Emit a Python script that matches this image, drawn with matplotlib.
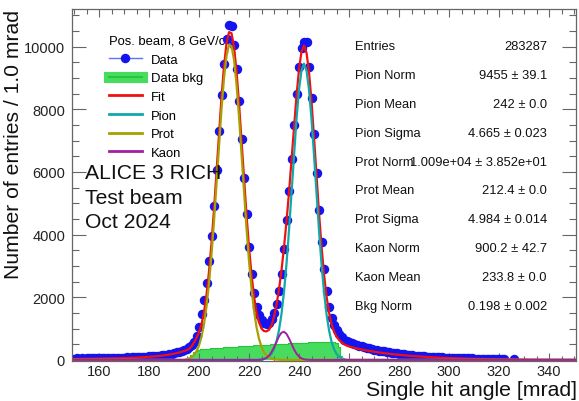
import matplotlib
matplotlib.use('Agg')
import matplotlib.pyplot as plt
import numpy as np
from matplotlib.lines import Line2D
from matplotlib.ticker import MultipleLocator

plt.rcParams['font.family'] = ['Liberation Sans', 'DejaVu Sans']

# data histogram, 1 mrad bins starting at 150 mrad
data_start = 150
data_counts = [
    40, 45, 38, 50, 42, 48, 52, 45, 55, 50,
    58, 52, 60, 55, 62, 58, 65, 60, 68, 72,
    70, 78, 75, 82, 85, 90, 88, 95, 100, 105,
    110, 115, 120, 128, 135, 145, 155, 170, 185, 200,
    220, 240, 265, 290, 320, 360, 410, 480, 580, 760,
    1050, 1450, 1900, 2450, 3150, 3950, 4900, 6050, 7300, 8450,
    9450, 10250, 10700, 10650, 10050, 9300, 8250, 7050, 5800, 4650,
    3600, 2750, 2150, 1700, 1420, 1260, 1190, 1160, 1180, 1300,
    1500, 1800, 2200, 2750, 3550, 4450, 5400, 6400, 7500, 8500,
    9350, 9950, 10150, 10150, 9350, 8350, 7200, 5950, 4800, 3750,
    2900, 2200, 1700, 1350, 1100, 950, 820, 720, 650, 600,
    560, 530, 500, 480, 455, 430, 410, 390, 370, 350,
    330, 315, 300, 285, 270, 258, 245, 232, 220, 208,
    196, 185, 175, 165, 156, 148, 140, 133, 126, 120,
    114, 108, 102, 97, 92, 88, 84, 80, 76, 72,
    69, 66, 63, 60, 57, 55, 52, 50, 48, 46,
    44, 42, 40, 38, 37, 35, 34, 32, 31, 30,
    29, 28, 27,
]
extra_angle = [326]
extra_count = [25]

# background histogram
bkg_start = 196
bkg_counts = [
    60, 150, 240, 290, 320, 335, 345, 350, 360, 368,
    372, 380, 385, 392, 398, 402, 408, 412, 418, 422,
    428, 432, 440, 446, 452, 456, 462, 466, 470, 475,
    480, 484, 488, 494, 498, 502, 508, 512, 518, 522,
    526, 530, 534, 538, 542, 546, 550, 552, 556, 558,
    560, 562, 563, 565, 566, 566, 565, 563, 560, 555,
    420, 120,
]

# fit curves, sampled every 1 mrad
fit_start = 150
fit_total = [
    30, 30, 31, 32, 33, 34, 35, 36, 37, 38,
    40, 41, 42, 44, 45, 47, 49, 51, 53, 55,
    58, 61, 64, 67, 70, 74, 78, 82, 87, 92,
    98, 104, 111, 118, 126, 135, 145, 156, 168, 182,
    198, 216, 236, 258, 283, 312, 350, 430, 560, 700,
    880, 1140, 1530, 2080, 2820, 3730, 4800, 5995, 7220, 8385,
    9380, 10100, 10463, 10427, 9998, 9227, 8198, 7021, 5803, 4639,
    3600, 2727, 2033, 1511, 1200, 1000, 920, 910, 960, 1100,
    1370, 1760, 2250, 2860, 3590, 4418, 5348, 6363, 7420, 8429,
    9276, 9840, 10030, 9808, 9190, 8254, 7112, 5888, 4700, 3632,
    2738, 2035, 1514, 1151, 906, 750, 640, 560, 500, 460,
    430, 405, 385, 365, 348, 332, 316, 302, 288, 275,
    262, 250, 238, 227, 216, 206, 196, 187, 178, 170,
    162, 154, 147, 140, 133, 127, 121, 115, 109, 104,
    99, 94, 89, 85, 81, 77, 73, 69, 66, 62,
    59, 56, 53, 50, 48, 45, 43, 40, 38, 36,
    34, 32, 30, 28, 27, 25, 24, 22, 21, 20,
    19, 18, 17, 16, 15, 14, 13, 12, 12, 11,
    10, 10, 9, 9, 8, 8, 7, 7, 7, 6,
    6, 6, 5, 5, 5, 5, 4, 4, 4, 4,
    3, 3,
]
prot_start = 195
prot_curve = [
    23, 45, 85, 155, 272, 457, 738, 1144, 1704, 2438,
    3352, 4424, 5610, 6834, 7995, 8985, 9700, 10058, 10017, 9583,
    8807, 7773, 6591, 5368, 4199, 3155, 2277, 1578, 1051, 672,
    413, 244, 138, 75, 39, 20, 10, 5,
]
pion_start = 226
pion_curve = [
    26, 54, 105, 195, 346, 586, 949, 1470, 2173, 3067,
    4135, 5323, 6547, 7689, 8625, 9240, 9455, 9240, 8625, 7689,
    6547, 5323, 4135, 3067, 2173, 1470, 949, 586, 346, 195,
    105, 54, 26,
]
kaon_start = 224
kaon_curve = [
    4, 12, 31, 69, 139, 250, 404, 582, 752, 869,
    898, 831, 688, 510, 338, 200, 106, 50, 21, 8, 3,
]

stat_names = ['Entries', 'Pion Norm', 'Pion Mean', 'Pion Sigma', 'Prot Norm',
              'Prot Mean', 'Prot Sigma', 'Kaon Norm', 'Kaon Mean', 'Bkg Norm']
stat_values = ['283287', '9455 \u00b1 39.1', '242 \u00b1 0.0', '4.665 \u00b1 0.023',
               '1.009e+04 \u00b1 3.852e+01', '212.4 \u00b1 0.0', '4.984 \u00b1 0.014',
               '900.2 \u00b1 42.7', '233.8 \u00b1 0.0', '0.198 \u00b1 0.002']

col_data = '#1414f0'
col_bkg = '#48dc5e'
col_bkg_line = '#22c83a'
col_fit = '#f01010'
col_pion = '#10a8a8'
col_prot = '#a8a000'
col_kaon = '#a020a0'


def on_grid(start, vals, grid):
    arr = np.zeros(len(grid))
    i = start - grid[0]
    arr[i:i + len(vals)] = vals
    return arr


grid = np.arange(fit_start, fit_start + len(fit_total))
fit_y = np.array(fit_total, dtype=float)
prot_y = on_grid(prot_start, prot_curve, grid)
pion_y = on_grid(pion_start, pion_curve, grid)
kaon_y = on_grid(kaon_start, kaon_curve, grid)

x_data = np.concatenate([np.arange(data_start, data_start + len(data_counts)), extra_angle])
y_data = np.array(data_counts + extra_count, dtype=float)
x_bkg = np.arange(bkg_start, bkg_start + len(bkg_counts))
y_bkg = np.array(bkg_counts, dtype=float)

fig = plt.figure(figsize=(5.79, 4.02), dpi=100)
ax = fig.add_axes([72 / 579, 1 - 362 / 402, 504 / 579, 352 / 402])

ax.fill_between(x_bkg, y_bkg, step='mid', color=col_bkg, lw=0, zorder=1)
ax.step(x_bkg, y_bkg, where='mid', color=col_bkg_line, lw=0.8, zorder=1)

ax.errorbar(x_data, y_data, yerr=np.sqrt(y_data), fmt='o', color=col_data,
            ms=5.8, elinewidth=0.8, capsize=0, zorder=2)

ax.plot(grid, fit_y, color=col_fit, lw=1.6, zorder=3)
ax.plot(grid, pion_y, color=col_pion, lw=1.6, zorder=4)
ax.plot(grid, prot_y, color=col_prot, lw=1.6, zorder=4)
ax.plot(grid, kaon_y, color=col_kaon, lw=1.4, zorder=5)

ax.set_xlim(149.2, 350.8)
ax.set_ylim(-35, 11200)
ax.xaxis.set_major_locator(MultipleLocator(20))
ax.xaxis.set_minor_locator(MultipleLocator(5))
ax.yaxis.set_major_locator(MultipleLocator(2000))
ax.yaxis.set_minor_locator(MultipleLocator(500))
ax.set_xticks([160, 180, 200, 220, 240, 260, 280, 300, 320, 340])
ax.tick_params(which='both', direction='in', top=True, right=True,
               color='#666666', labelcolor='#222222', labelsize=10.5, width=0.8)
ax.tick_params(axis='y', which='major', length=10, pad=5)
ax.tick_params(axis='y', which='minor', length=5)
ax.tick_params(axis='x', which='major', length=6, pad=2)
ax.tick_params(axis='x', which='minor', length=3.5)
for sp in ax.spines.values():
    sp.set_color('#666666')
    sp.set_linewidth(0.9)

fig.text(14 / 579, 1 - 10 / 402, 'Number of entries / 1.0 mrad', rotation=90,
         ha='center', va='top', fontsize=15.2, color='#111111')
fig.text(577 / 579, 1 - 396.5 / 402, 'Single hit angle [mrad]', ha='right', va='baseline',
         fontsize=15.3, color='#111111')

handles = [
    Line2D([], [], color='#6070ff', lw=1, marker='o', ms=5.8, mfc=col_data, mec=col_data),
    (Line2D([], [], color=col_bkg, lw=8), Line2D([], [], color=col_bkg_line, lw=1.5)),
    Line2D([], [], color=col_fit, lw=2),
    Line2D([], [], color=col_pion, lw=2),
    Line2D([], [], color=col_prot, lw=2),
    Line2D([], [], color=col_kaon, lw=2),
]
labels = ['Data', 'Data bkg', 'Fit', 'Pion', 'Prot', 'Kaon']
leg = ax.legend(handles, labels, loc='upper left',
                bbox_to_anchor=((109 - 72) / 504, 1 - (36 - 10) / 352),
                frameon=False, fontsize=9.4, title='Pos. beam, 8 GeV/c',
                title_fontsize=9.4, alignment='left', handlelength=2.5,
                handletextpad=0.7, labelspacing=0.5, borderpad=0, borderaxespad=0)
leg.set_zorder(1)

ax.text((85 - 72) / 504, 1 - (164 - 10) / 352, 'ALICE 3 RICH\nTest beam\nOct 2024',
        transform=ax.transAxes, ha='left', va='top', fontsize=15.2, linespacing=1.38,
        color='#111111', zorder=6)

for i, (name, val) in enumerate(zip(stat_names, stat_values)):
    yc = 1 - (47 + 28.9 * i - 10) / 352
    ax.text((355 - 72) / 504, yc, name, transform=ax.transAxes, ha='left', va='center',
            fontsize=9.3, color='#111111')
    ax.text((547 - 72) / 504, yc, val, transform=ax.transAxes, ha='right', va='center',
            fontsize=9.3, color='#111111')

fig.savefig('out.png', dpi=100)
